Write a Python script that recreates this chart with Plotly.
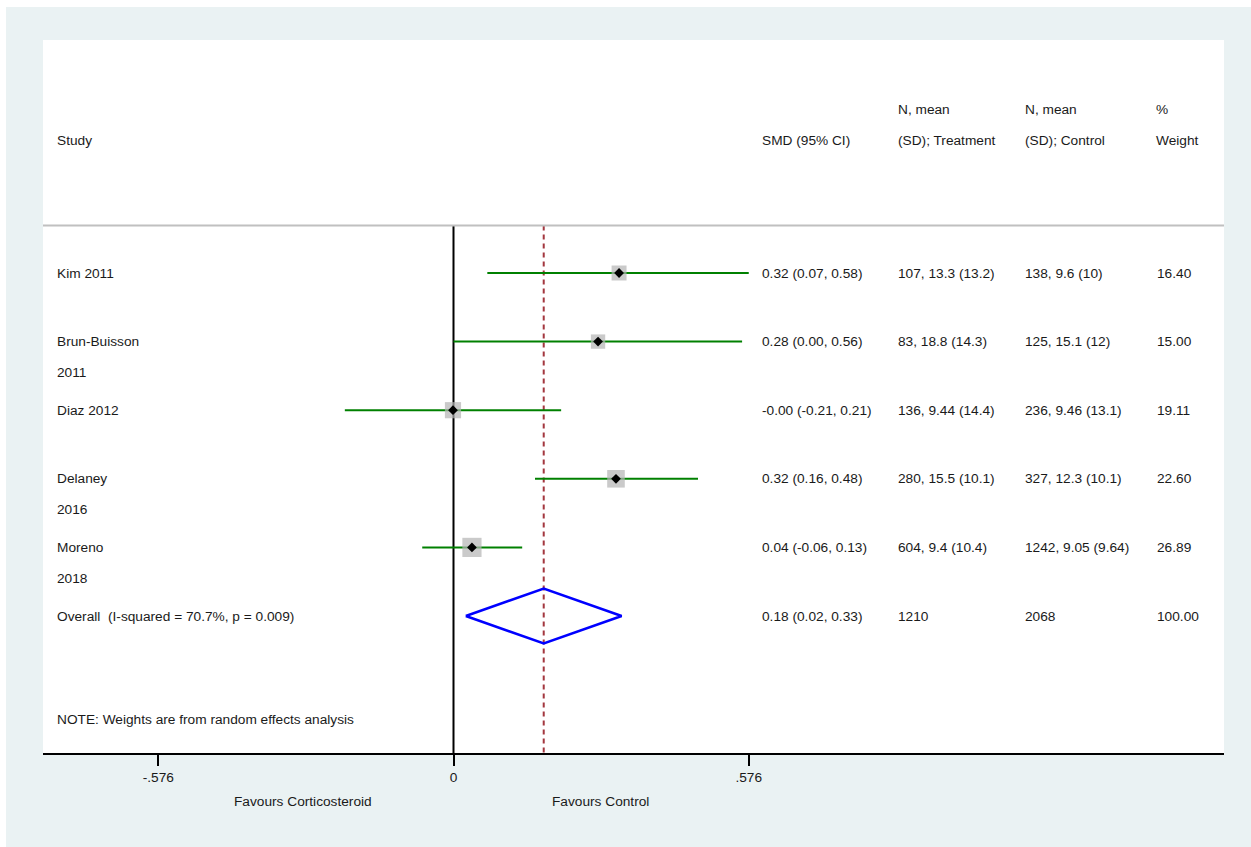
import numpy as np
import plotly.graph_objects as go

# ---------------- data ----------------
study_name = ["Kim 2011", "Brun-Buisson", "Diaz 2012", "Delaney", "Moreno"]
study_year = ["", "2011", "", "2016", "2018"]
es = [0.323, 0.282, -0.001, 0.317, 0.036]
lci = [0.066, 0.000, -0.212, 0.159, -0.061]
uci = [0.580, 0.563, 0.210, 0.477, 0.134]
weight = [16.40, 15.00, 19.11, 22.60, 26.89]
smd_text = ["0.32 (0.07, 0.58)", "0.28 (0.00, 0.56)", "-0.00 (-0.21, 0.21)",
            "0.32 (0.16, 0.48)", "0.04 (-0.06, 0.13)"]
treat_text = ["107, 13.3 (13.2)", "83, 18.8 (14.3)", "136, 9.44 (14.4)",
              "280, 15.5 (10.1)", "604, 9.4 (10.4)"]
ctrl_text = ["138, 9.6 (10)", "125, 15.1 (12)", "236, 9.46 (13.1)",
             "327, 12.3 (10.1)", "1242, 9.05 (9.64)"]
weight_text = ["16.40", "15.00", "19.11", "22.60", "26.89"]

overall_label = "Overall  (I-squared = 70.7%, p = 0.009)"
overall_es, overall_lci, overall_uci = 0.176, 0.024, 0.328
overall_smd = "0.18 (0.02, 0.33)"
overall_treat = "1210"
overall_ctrl = "2068"
overall_weight = "100.00"

tick_vals = [-0.576, 0, 0.576]
tick_text = ["-.576", "0", ".576"]
note_text = "NOTE: Weights are from random effects analysis"
fav_left, fav_right = "Favours Corticosteroid", "Favours Control"

# ---------------- geometry helpers (page pixels) ----------------
W, H = 1251, 847
L, R, T, B = 43, 1224, 40, 753
X0PX, KX = 453.5, 0.576 / 295.25       # pixel of x=0, data units per px
ROW0PX, ROWPX = 273.0, 68.6            # pixel of row 1, px per row


def px2x(px):
    return (px - X0PX) * KX


def px2y(py):
    return 1 + (py - ROW0PX) / ROWPX


xmax_clip = 0.576
rows = list(range(1, len(study_name) + 1))
orow = len(study_name) + 1

fig = go.Figure()

# CI lines
cx, cy = [], []
for r, lo, hi in zip(rows, lci, uci):
    cx += [max(lo, -xmax_clip), min(hi, xmax_clip), None]
    cy += [r, r, None]
fig.add_trace(go.Scatter(x=cx, y=cy, mode="lines",
                         line=dict(color="#008000", width=2),
                         hoverinfo="skip", showlegend=False))

# weight boxes
fig.add_trace(go.Scatter(x=es, y=rows, mode="markers",
                         marker=dict(symbol="square",
                                     size=[3.7 * np.sqrt(w) for w in weight],
                                     color="#b4b4b4", line=dict(width=0)),
                         showlegend=False))
# point estimates
fig.add_trace(go.Scatter(x=es, y=rows, mode="markers",
                         marker=dict(symbol="diamond", size=7.5, color="black",
                                     line=dict(width=0)),
                         showlegend=False))

# overall diamond
hh = 0.4
fig.add_trace(go.Scatter(
    x=[overall_lci, overall_es, overall_uci, overall_es, overall_lci],
    y=[orow, orow - hh, orow, orow + hh, orow],
    mode="lines", line=dict(color="#0000ff", width=2.5),
    showlegend=False, hoverinfo="skip"))

# ---------------- shapes ----------------
header_y = px2y(225.5)
bottom_y = px2y(B)
top_y = px2y(T)
shapes = [
    dict(type="line", xref="x", yref="y", x0=0, x1=0, y0=header_y, y1=bottom_y,
         line=dict(color="black", width=2), layer="below"),
    dict(type="line", xref="x", yref="y", x0=overall_es, x1=overall_es,
         y0=header_y, y1=bottom_y,
         line=dict(color="#a3373f", width=2, dash="5px,4px"), layer="below"),
    dict(type="line", xref="paper", yref="y", x0=0, x1=1, y0=header_y, y1=header_y,
         line=dict(color="#c0c0c0", width=2)),
    # thin white border of the original image (top and left)
    dict(type="rect", xref="paper", yref="paper",
         x0=(0 - L) / (R - L), x1=(W - L) / (R - L),
         y0=(B - 7) / (B - T), y1=(B + 5) / (B - T),
         fillcolor="white", line=dict(width=0)),
    dict(type="rect", xref="paper", yref="paper",
         x0=(-5 - L) / (R - L), x1=(6 - L) / (R - L),
         y0=(B - H - 5) / (B - T), y1=(B + 5) / (B - T),
         fillcolor="white", line=dict(width=0)),
]

# ---------------- text ----------------
font = dict(family="Liberation Sans, Arial, sans-serif", size=13.7, color="#1a1a1a")
ann = []


def txt(px, y, s, yref="y"):
    ann.append(dict(x=px2x(px), y=y, xref="x", yref=yref, text=s, showarrow=False,
                    xanchor="left", yanchor="middle", font=font))


col_study, col_smd, col_tr, col_ct, col_w = 55, 760, 896, 1023, 1155

# header
txt(col_study, px2y(140), "Study")
txt(col_smd, px2y(140), "SMD (95% CI)")
txt(col_tr, px2y(109), "N, mean")
txt(col_tr, px2y(140), "(SD); Treatment")
txt(col_ct, px2y(109), "N, mean")
txt(col_ct, px2y(140), "(SD); Control")
txt(col_w - 1, px2y(109), "%")
txt(col_w - 1, px2y(140), "Weight")

year_off = 31 / ROWPX
for i, r in enumerate(rows):
    txt(col_study, r, study_name[i])
    if study_year[i]:
        txt(col_study, r + year_off, study_year[i])
    txt(col_smd, r, smd_text[i])
    txt(col_tr, r, treat_text[i])
    txt(col_ct, r, ctrl_text[i])
    txt(col_w, r, weight_text[i])

txt(col_study, orow, overall_label)
txt(col_smd, orow, overall_smd)
txt(col_tr, orow, overall_treat)
txt(col_ct, orow, overall_ctrl)
txt(col_w, orow, overall_weight)

txt(col_study, px2y(719), note_text)

for px, s in [(303, fav_left), (600, fav_right)]:
    ann.append(dict(x=px2x(px), y=(B - 801) / (B - T), xref="x", yref="paper",
                    text=s, showarrow=False, xanchor="center", yanchor="middle",
                    font=font))

fig.update_layout(
    width=W, height=H,
    margin=dict(l=L, r=W - R, t=T, b=H - B, pad=0),
    paper_bgcolor="#eaf2f3",
    plot_bgcolor="white",
    shapes=shapes,
    annotations=ann,
    showlegend=False,
    xaxis=dict(range=[px2x(L), px2x(R)], showgrid=False, zeroline=False,
               showline=True, linecolor="black", linewidth=2,
               ticks="outside", ticklen=11, tickwidth=2, tickcolor="black",
               tickvals=tick_vals, ticktext=tick_text, tickfont=font,
               fixedrange=True),
    yaxis=dict(range=[bottom_y, top_y], visible=False, fixedrange=True),
)

fig.write_html(
    "out.html",
    config={"displayModeBar": False},
    post_script="document.body.style.margin='0';document.body.style.overflow='hidden';",
)
